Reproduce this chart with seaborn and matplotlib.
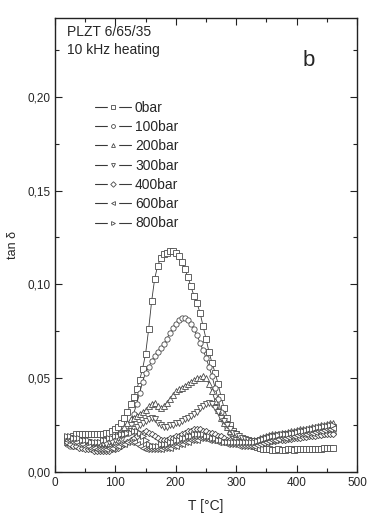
import matplotlib
matplotlib.use("Agg")
import matplotlib.pyplot as plt
import seaborn as sns
import numpy as np
from matplotlib.ticker import MultipleLocator
from matplotlib.lines import Line2D
from matplotlib.legend_handler import HandlerTuple

sns.set_style("ticks")
plt.rcParams['font.family'] = ['Liberation Sans', 'DejaVu Sans']

# temperature grid (deg C)
temperature = [20, 25, 30, 35, 40, 45, 50, 55, 60, 65, 70, 75, 80, 85, 90, 95,
               100, 105, 110, 115, 120, 125, 130, 135, 140, 145, 150, 155, 160, 165, 170, 175,
               180, 185, 190, 195, 200, 205, 210, 215, 220, 225, 230, 235, 240, 245, 250, 255,
               260, 265, 270, 275, 280, 285, 290, 295, 300, 305, 310, 315, 320, 325, 330, 335,
               340, 345, 350, 355, 360, 365, 370, 375, 380, 385, 390, 395, 400, 405, 410, 415,
               420, 425, 430, 435, 440, 445, 450, 455, 460]

# tan delta values in units of 1e-3
tan_0bar = [17, 18, 19, 20, 20, 20, 20, 20, 20, 20, 20, 20, 20, 21, 21, 22,
            23, 24, 26, 29, 32, 36, 40, 44, 49, 55, 63, 76, 91, 103, 110, 114,
            116, 117, 118, 118, 117, 115, 112, 108, 104, 99, 94, 90, 85, 78, 71, 64,
            58, 53, 47, 40, 34, 29, 25, 22, 20, 18, 17, 16, 15, 14.5, 14, 13.5,
            13, 12.5, 12, 12, 11.8, 11.8, 12, 11.8, 11.8, 12, 12, 11.8, 12, 12, 12, 12.2,
            12.2, 12.3, 12.3, 12.5, 12.5, 12.6, 12.8, 13, 13]
tan_100bar = [15, 14, 14, 15, 15, 15, 14, 14, 14, 14, 14, 14, 15, 15, 15, 16,
              16, 17, 18, 20, 22, 26, 31, 36, 42, 48, 53, 56, 59, 62, 64, 66,
              68, 71, 74, 77, 79, 81, 82, 82, 81, 79, 76, 73, 69, 65, 61, 56,
              51, 45, 39, 32, 27, 24, 21, 19, 18, 17, 16, 15.5, 15, 15, 15, 15,
              15.5, 16, 16.5, 17, 17, 17.5, 17.5, 18, 18, 18, 18.5, 18.5, 19, 19, 19, 19.5,
              19.5, 20, 20, 20, 20.5, 20.5, 21, 21, 21]
tan_200bar = [16, 16, 16, 16, 15, 15, 15, 15, 15, 15, 16, 16, 16, 17, 17, 18,
              19, 20, 22, 24, 26, 28, 29, 30, 31, 32, 33, 35, 36, 37, 35, 34,
              35, 37, 39, 41, 43, 44, 45, 46, 47, 48, 49, 50, 50, 51, 50, 47,
              43, 38, 33, 29, 26, 24, 22, 21, 20, 19, 18, 18, 17, 17, 17, 17,
              18, 18.5, 19, 19.5, 20, 20, 20.5, 21, 21, 21.5, 22, 22, 22.5, 23, 23, 23,
              23.5, 24, 24, 24.5, 25, 25, 25.5, 26, 26]
tan_300bar = [18, 18, 17, 17, 17, 16, 16, 16, 15, 15, 15, 15, 15, 15, 16, 16,
              17, 18, 19, 20, 21, 22, 23, 24, 25, 26, 27, 28, 29, 28, 26, 25,
              24, 24, 25, 25, 26, 26, 27, 28, 29, 30, 31, 32, 34, 35, 36, 37,
              36, 34, 32, 29, 27, 25, 23, 21, 20, 19, 18, 17.5, 17, 16.5, 16.5, 16.5,
              17, 17.5, 18, 18.5, 19, 19, 19.5, 19.5, 20, 20, 20.5, 20.5, 21, 21, 21.5, 21.5,
              22, 22, 22.5, 22.5, 23, 23, 23.5, 23.5, 24]
tan_400bar = [16, 15, 14, 14, 13, 13, 12, 12, 12, 11, 11, 11, 11, 11, 11, 12,
              12, 13, 14, 15, 16, 17, 18, 19, 20, 21, 22, 21, 20, 19, 18, 17,
              17, 17, 18, 18, 19, 19, 20, 21, 22, 22, 23, 23, 23, 22, 22, 21,
              21, 20, 19, 19, 18, 17, 17, 16, 16, 15, 15, 15, 15, 15, 15, 15,
              15, 15.5, 16, 16, 16.5, 16.5, 17, 17, 17, 17.5, 17.5, 18, 18, 18, 18.5, 18.5,
              19, 19, 19, 19.5, 19.5, 20, 20, 20, 20]
tan_600bar = [17, 17, 16, 16, 15, 15, 14, 14, 13, 13, 12, 12, 12, 12, 13, 13,
              14, 14, 15, 15, 16, 16, 16, 15, 14, 13, 12, 12, 12, 12, 12, 12,
              13, 13, 13, 14, 14, 15, 15, 16, 16, 17, 17, 17, 18, 18, 18, 17,
              17, 17, 16, 16, 16, 15, 15, 15, 15, 14, 14, 14, 14, 14, 14, 14.5,
              15, 15.5, 16, 16.5, 17, 17, 17.5, 18, 18, 18.5, 19, 19, 19.5, 20, 20, 20.5,
              21, 21, 21.5, 22, 22, 22.5, 23, 23, 23.5]
tan_800bar = [19, 19, 18, 18, 18, 17, 17, 17, 16, 16, 16, 16, 17, 17, 18, 18,
              19, 19, 20, 20, 21, 21, 22, 22, 21, 19, 17, 15, 14, 14, 14, 15,
              15, 15, 16, 16, 17, 17, 18, 18, 19, 19, 20, 20, 20, 20, 19, 19,
              18, 18, 17, 17, 16, 16, 16, 16, 16, 16, 16, 16, 16, 16, 16, 16.5,
              17, 17.5, 18, 18.5, 19, 19, 19.5, 20, 20, 20.5, 21, 21, 21.5, 22, 22, 22.5,
              23, 23, 23.5, 24, 24, 24.5, 24.5, 25, 25]

series_labels = ["0bar", "100bar", "200bar", "300bar", "400bar", "600bar", "800bar"]
series_values = [tan_0bar, tan_100bar, tan_200bar, tan_300bar, tan_400bar, tan_600bar, tan_800bar]
series_markers = ["s", "o", "^", "v", "D", "<", ">"]

x_ticks = [0, 100, 200, 300, 400, 500]
y_ticks = [0.00, 0.05, 0.10, 0.15, 0.20]
y_tick_labels = ["0,00", "0,05", "0,10", "0,15", "0,20"]

fig = plt.figure(figsize=(3.68, 5.19), dpi=100)
ax = fig.add_axes([55/368, 1-472/519, (357-55)/368, (472-18)/519])

edge = "#4a4a4a"
line_col = "#3a3a3a"
for lab, vals, mk in zip(series_labels, series_values, series_markers):
    y = np.array(vals) / 1000.0
    ms = 3.8 if mk != "D" else 3.2
    sns.lineplot(x=temperature, y=y, ax=ax, color=line_col, linewidth=0.6,
                 marker=mk, markersize=ms, markerfacecolor="white",
                 markeredgecolor=edge, markeredgewidth=0.6, legend=False)

ax.set_xlim(0, 500)
ax.set_ylim(0, 0.242)
ax.set_xticks(x_ticks)
ax.set_xticklabels([str(t) for t in x_ticks])
ax.set_yticks(y_ticks)
ax.set_yticklabels(y_tick_labels)
ax.xaxis.set_minor_locator(MultipleLocator(50))
ax.yaxis.set_minor_locator(MultipleLocator(0.025))
ax.tick_params(which="both", direction="in", top=True, right=True, labelsize=8.5, width=0.8, color="#222222")
ax.tick_params(which="major", length=5)
ax.tick_params(which="minor", length=3)
for s in ax.spines.values():
    s.set_linewidth(1.0)
    s.set_color("#222222")

ax.set_xlabel("T [°C]", fontsize=10)
ax.set_ylabel("tan δ", fontsize=9)
ax.xaxis.set_label_coords(0.5, -0.06)
ax.yaxis.set_label_coords(-0.12, 0.5)

ax.text(0.04, 0.985, "PLZT 6/65/35", transform=ax.transAxes, fontsize=10, va="top", ha="left")
ax.text(0.04, 0.945, "10 kHz heating", transform=ax.transAxes, fontsize=10, va="top", ha="left")
ax.text(0.82, 0.93, "b", transform=ax.transAxes, fontsize=16, va="top", ha="left")

# legend handles: line with a gap around a small open marker
handles = []
for mk in series_markers:
    ln = Line2D([], [], color=line_col, linewidth=0.8)
    gap = Line2D([], [], linestyle="none", marker="s", markersize=6.5,
                 markerfacecolor="white", markeredgecolor="white")
    mark = Line2D([], [], linestyle="none", marker=mk, markersize=2.8,
                  markerfacecolor="white", markeredgecolor=edge, markeredgewidth=0.6)
    handles.append((ln, gap, mark))

leg = ax.legend(handles, series_labels, loc="upper left", bbox_to_anchor=(0.113, 0.83), frameon=False,
                fontsize=10, handlelength=2.6, handletextpad=0.3, labelspacing=0.38,
                borderaxespad=0, handler_map={tuple: HandlerTuple(ndivide=1)})

fig.savefig("out.png", dpi=100)
